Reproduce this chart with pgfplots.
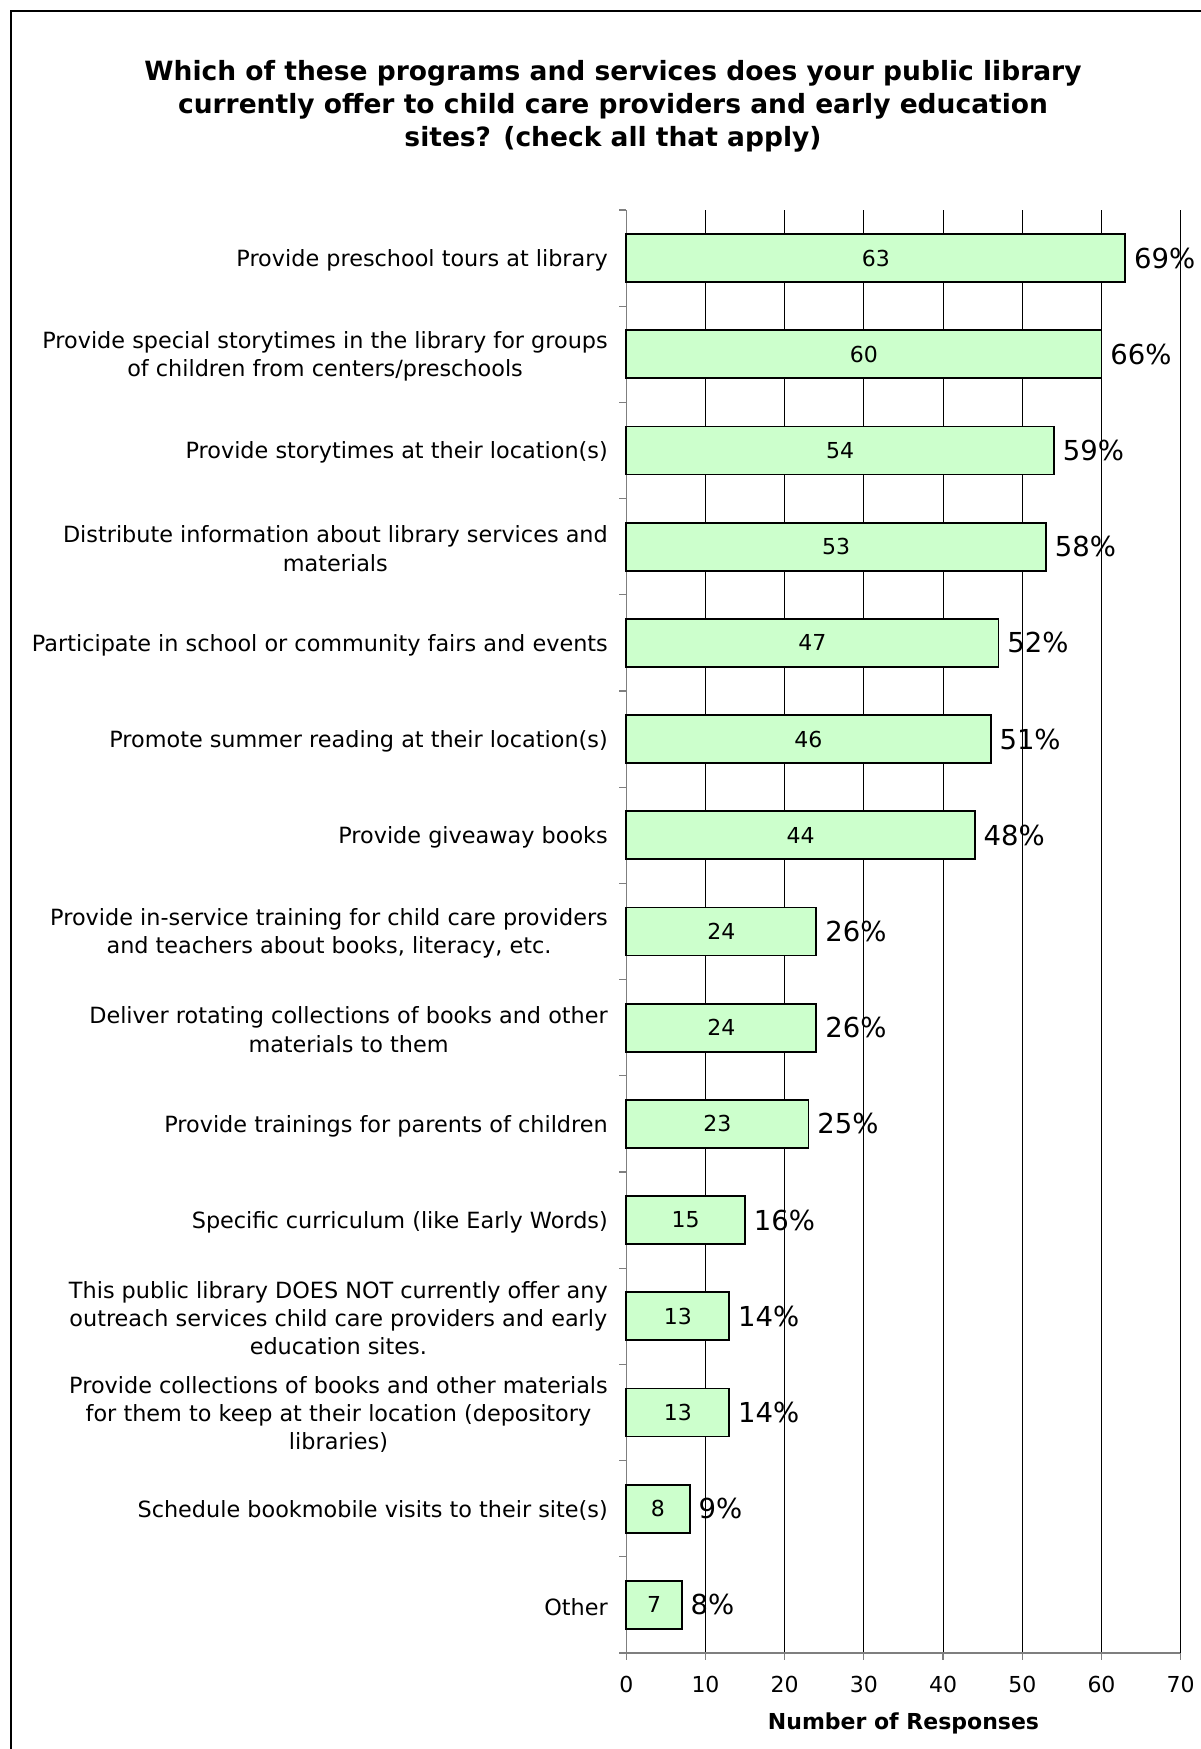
\documentclass[border=0pt]{standalone}
\usepackage{pgfplots}
\pgfplotsset{compat=1.18}
\usepackage{pgfplotstable}
\usepackage{fontspec}
\setmainfont{DejaVu Sans}
\definecolor{barfill}{HTML}{CCFFCC}
\definecolor{axgray}{HTML}{7F7F7F}

\pgfplotstableread{
y n pct
14 63 69
13 60 66
12 54 59
11 53 58
10 47 52
9 46 51
8 44 48
7 24 26
6 24 26
5 23 25
4 15 16
3 13 14
2 13 14
1 8 9
0 7 8
}\datatable

\begin{document}
\begin{tikzpicture}[x=1pt,y=1pt]
\useasboundingbox (0,0) rectangle (1201,1749);
\fill[white] (0,0) rectangle (1201,1749);
\draw[line width=2pt] (11,-5) -- (11,1738) -- (1210,1738);
\node[align=center, font=\fontsize{26.5}{33}\selectfont\bfseries] at (613,1643)
 {Which of these programs and services does your public library\\
  currently offer to child care providers and early education\\
  sites? (check all that apply)};
\begin{axis}[
  at={(626.3pt,96pt)}, anchor=south west,
  scale only axis, width=554.4pt, height=1443pt,
  xmin=0, xmax=70, ymin=-0.5, ymax=14.5,
  clip=false,
  axis x line*=bottom, axis y line*=left,
  axis line style={-, axgray, line width=1.5pt},
  tick align=outside,
  major tick length=7pt,
  tick style={axgray, line width=1.2pt},
  xtick={0,10,...,60},
  extra x ticks={70},
  extra x tick style={grid=major, major grid style={axgray, line width=1.2pt}},
  xmajorgrids,
  major x grid style={black, line width=1pt},
  ytick={-0.5,0.5,...,14.5},
  yticklabels={},
  extra y ticks={0,1,...,14},
  extra y tick style={tick style={draw=none}, major tick length=0pt},
  extra y tick labels={
    {Other},
    {Schedule bookmobile visits to their site(s)},
    {Provide collections of books and other materials\\for them to keep at their location (depository\\libraries)},
    {This public library DOES NOT currently offer any\\outreach services child care providers and early\\education sites.},
    {Specific curriculum (like Early Words)},
    {Provide trainings for parents of children},
    {Deliver rotating collections of books and other\\materials to them},
    {Provide in-service training for child care providers\\and teachers about books, literacy, etc.},
    {Provide giveaway books},
    {Promote summer reading at their location(s)},
    {Participate in school or community fairs and events},
    {Distribute information about library services and\\materials},
    {Provide storytimes at their location(s)},
    {Provide special storytimes in the library for groups\\of children from centers/preschools},
    {Provide preschool tours at library}},
  yticklabel style={align=center, font=\fontsize{22.35}{28.3}\selectfont, anchor=east, xshift=-15pt, yshift=-2pt},
  xticklabel style={font=\fontsize{22}{26}\selectfont, yshift=-13pt},
  /pgf/number format/assume math mode=true,
  xlabel={Number of Responses},
  xlabel style={font=\fontsize{22}{26}\selectfont\bfseries, at={(axis description cs:0.5,0)}, anchor=center, yshift=-70pt},
]
\addplot[xbar, bar width=0.5, fill=barfill, draw=black, line width=1.8pt,
  point meta=explicit,
  nodes near coords={\pgfmathprintnumber{\pgfplotspointmeta}\%},
  nodes near coords style={font=\fontsize{27.5}{32}\selectfont, anchor=west, text=black, inner sep=8pt}]
  table[x=n, y=y, meta=pct]{\datatable};
\addplot[draw=none, mark=none, point meta=explicit,
  nodes near coords,
  nodes near coords style={font=\fontsize{22}{26}\selectfont, anchor=center, text=black}]
  table[x expr=\thisrow{n}/2, y=y, meta=n]{\datatable};
\end{axis}
\end{tikzpicture}
\end{document}
